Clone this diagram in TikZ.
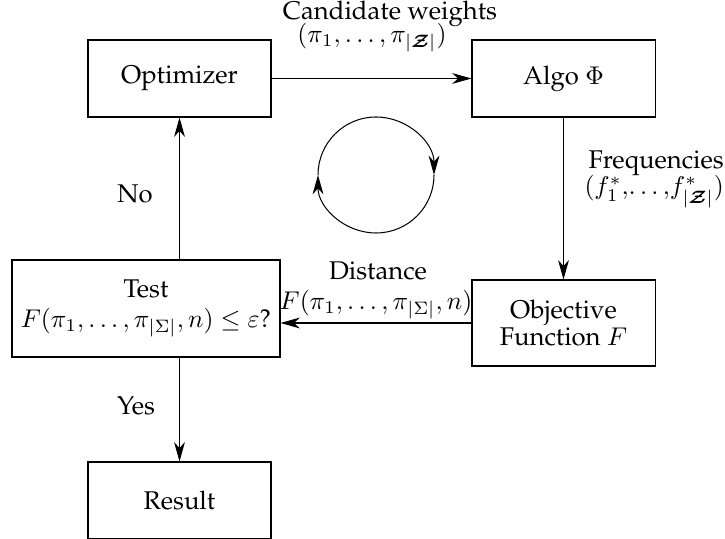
\documentclass[tikz,border=0pt]{standalone}
\usepackage[T1]{fontenc}
\renewcommand{\rmdefault}{ppl}
\usepackage{amsmath,bm}
\usetikzlibrary{arrows.meta}
\begin{document}
\begin{tikzpicture}[x=0.39pt,y=-0.39pt,
  box/.style={draw, inner sep=0pt, align=center, minimum width=71.37pt, minimum height=30.03pt},
  arr/.style={-{Stealth[length=7.5pt,width=4.2pt,inset=2.2pt]}},
  lbl/.style={inner sep=0pt, anchor=base}]
\useasboundingbox (0,0) rectangle (725,539);
\node[box] (opt) at (179.5,78.5) {\raisebox{-1pt}{Optimizer}};
\node[box] (algo) at (563.5,78.5) {\raisebox{-1pt}{Algo $\Phi$}};
\node[box, minimum height=33.54pt, font=\fontsize{10}{10.8}\selectfont] (obj) at (563.5,323) {Objective\\Function $F$};
\node[box, minimum width=104.52pt, minimum height=37.83pt, font=\fontsize{10}{11.6}\selectfont] (test) at (146,308.5) {Test\\$F(\pi_1,\ldots,\pi_{|\Sigma|},n)\le\varepsilon$?};
\node[box] (res) at (179.5,500.5) {\raisebox{-1pt}{Result}};
\coordinate (cc) at (376,175);
\draw[arr] ([shift={(180:58)}]cc) arc[start angle=180, end angle=360, radius=58];
\draw[arr] ([shift={(0:58)}]cc) arc[start angle=0, end angle=180, radius=58];
\draw[arr] (opt) -- (algo);
\draw[arr] (algo) -- (obj);
\draw[arr] (obj.west) -- (obj.west -| test.east);
\draw[arr] (test.north -| opt.south) -- (opt.south);
\draw[arr] (test.south -| res.north) -- (res.north);
\node[lbl] (cw1) at (390,20) {Candidate weights};
\node[lbl] (cw2) at (372,43) {$(\pi_1,\ldots,\pi_{|\bm{\mathcal{Z}}|})$};
\node[lbl, anchor=base west] (fr1) at (588,169) {Frequencies};
\node[lbl, anchor=base west] (fr2) at (584,195) {$(f^*_1,\!\ldots,\!f^*_{|\bm{\mathcal{Z}}|})$};
\node[lbl] (d1) at (378,280) {Distance};
\node[lbl] (d2) at (376,310) {$F(\pi_1,\ldots,\pi_{|\Sigma|},n)$};
\node[lbl] (no) at (135,203) {No};
\node[lbl] (yes) at (136,415) {Yes};
\end{tikzpicture}
\end{document}
